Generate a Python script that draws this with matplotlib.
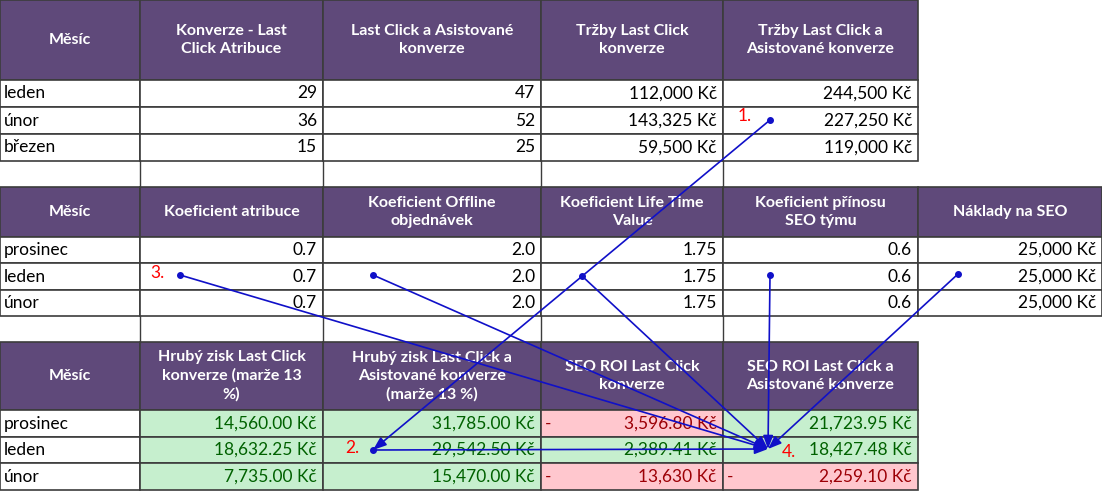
import matplotlib.pyplot as plt
from matplotlib.patches import Rectangle

plt.rcParams['font.family'] = ['Lato', 'DejaVu Sans']

HEAD = '#5f497a'
GRID = '#3c3c3c'
GREEN_BG, GREEN_TX = '#c6efce', '#006100'
RED_BG, RED_TX = '#ffc7ce', '#9c0006'

# tabulka 1
head1 = ['Měsíc', 'Konverze - Last\nClick Atribuce', 'Last Click a Asistované\nkonverze',
         'Tržby Last Click\nkonverze', 'Tržby Last Click a\nAsistované konverze']
months1 = ['leden', 'únor', 'březen']
konv_lc = [29, 36, 15]
konv_as = [47, 52, 25]
trzby_lc = ['112,000 Kč', '143,325 Kč', '59,500 Kč']
trzby_as = ['244,500 Kč', '227,250 Kč', '119,000 Kč']

# tabulka 2
head2 = ['Měsíc', 'Koeficient atribuce', 'Koeficient Offline\nobjednávek',
         'Koeficient Life Time\nValue', 'Koeficient přínosu\nSEO týmu', 'Náklady na SEO']
months2 = ['prosinec', 'leden', 'únor']
k_atr = ['0.7', '0.7', '0.7']
k_off = ['2.0', '2.0', '2.0']
k_ltv = ['1.75', '1.75', '1.75']
k_seo = ['0.6', '0.6', '0.6']
naklady = ['25,000 Kč', '25,000 Kč', '25,000 Kč']

# tabulka 3
head3 = ['Měsíc', 'Hrubý zisk Last Click\nkonverze (marže 13\n%)',
         'Hrubý zisk Last Click a\nAsistované konverze\n(marže 13 %)',
         'SEO ROI Last Click\nkonverze', 'SEO ROI Last Click a\nAsistované konverze']
zisk_lc = ['14,560.00 Kč', '18,632.25 Kč', '7,735.00 Kč']
zisk_as = ['31,785.00 Kč', '29,542.50 Kč', '15,470.00 Kč']
roi_lc = ['3,596.80 Kč', '2,389.41 Kč', '13,630 Kč']
roi_lc_neg = [True, False, True]
roi_as = ['21,723.95 Kč', '18,427.48 Kč', '2,259.10 Kč']
roi_as_neg = [False, False, True]

cols5 = [0, 140, 323, 541, 723, 918]
cols6 = cols5 + [1102]

fig = plt.figure(figsize=(11.02, 4.92), dpi=100)
ax = fig.add_axes([0, 0, 1, 1])
ax.set_xlim(0, 1102)
ax.set_ylim(492, 0)
ax.axis('off')


def cell(x0, x1, y0, y1, text='', bg='white', color='black', ha='right',
         bold=False, size=12.5, neg=False):
    ax.add_patch(Rectangle((x0, y0), x1 - x0, y1 - y0, facecolor=bg,
                           edgecolor=GRID, lw=1.2))
    yc = (y0 + y1) / 2
    if ha == 'right':
        ax.text(x1 - 6, yc, text, ha='right', va='center', color=color, fontsize=size)
    elif ha == 'left':
        ax.text(x0 + 4, yc, text, ha='left', va='center', color=color, fontsize=size)
    else:
        ax.text((x0 + x1) / 2, yc, text, ha='center', va='center', color=color,
                fontsize=11.5, fontweight='bold', linespacing=1.35)
    if neg:
        ax.text(x0 + 4, yc, '-', ha='left', va='center', color=color, fontsize=size)


def header(cols, y0, y1, labels):
    for i, lab in enumerate(labels):
        cell(cols[i], cols[i + 1], y0, y1, lab, bg=HEAD, color='white', ha='center')


def empty(cols, y0, y1):
    for x in cols[1:-1]:
        ax.plot([x, x], [y0, y1], color=GRID, lw=1.0)


# tabulka 1
header(cols5, 0, 80, head1)
r = [80, 107, 134, 161]
for i in range(3):
    vals = [str(konv_lc[i]), str(konv_as[i]), trzby_lc[i], trzby_as[i]]
    cell(cols5[0], cols5[1], r[i], r[i + 1], months1[i], ha='left')
    for j, v in enumerate(vals):
        cell(cols5[j + 1], cols5[j + 2], r[i], r[i + 1], v)
empty(cols5, 161, 187)

# tabulka 2
header(cols6, 187, 237, head2)
r = [237, 263, 290, 316]
for i in range(3):
    vals = [k_atr[i], k_off[i], k_ltv[i], k_seo[i], naklady[i]]
    cell(cols6[0], cols6[1], r[i], r[i + 1], months2[i], ha='left')
    for j, v in enumerate(vals):
        cell(cols6[j + 1], cols6[j + 2], r[i], r[i + 1], v)
empty(cols5, 316, 342)

# tabulka 3
header(cols5, 342, 410, head3)
r = [410, 437, 463, 490]
for i in range(3):
    cell(cols5[0], cols5[1], r[i], r[i + 1], months2[i], ha='left')
    cell(cols5[1], cols5[2], r[i], r[i + 1], zisk_lc[i], bg=GREEN_BG, color=GREEN_TX)
    cell(cols5[2], cols5[3], r[i], r[i + 1], zisk_as[i], bg=GREEN_BG, color=GREEN_TX)
    n = roi_lc_neg[i]
    cell(cols5[3], cols5[4], r[i], r[i + 1], roi_lc[i], bg=RED_BG if n else GREEN_BG,
         color=RED_TX if n else GREEN_TX, neg=n)
    n = roi_as_neg[i]
    cell(cols5[4], cols5[5], r[i], r[i + 1], roi_as[i], bg=RED_BG if n else GREEN_BG,
         color=RED_TX if n else GREEN_TX, neg=n)

# šipky
target = (768, 449)
starts = [(180, 275), (373, 275), (582, 276), (770, 275), (958, 274), (373, 450)]
arrow = dict(arrowstyle='-|>,head_length=0.8,head_width=0.3', color='#1010c8', lw=1.2,
             shrinkA=0, shrinkB=0)
for s in starts:
    ax.annotate('', xy=target, xytext=s, arrowprops=arrow)
    ax.plot(*s, 'o', color='#1010c8', ms=4)
ax.annotate('', xy=(373, 450), xytext=(770, 120), arrowprops=arrow)
ax.plot(770, 120, 'o', color='#1010c8', ms=4)

for txt, x, y in [('1.', 738, 116), ('3.', 150, 273), ('2.', 345, 448), ('4.', 782, 452)]:
    ax.text(x, y, txt, color='red', fontsize=12.5, ha='left', va='center')

fig.savefig('out.png', dpi=100)
